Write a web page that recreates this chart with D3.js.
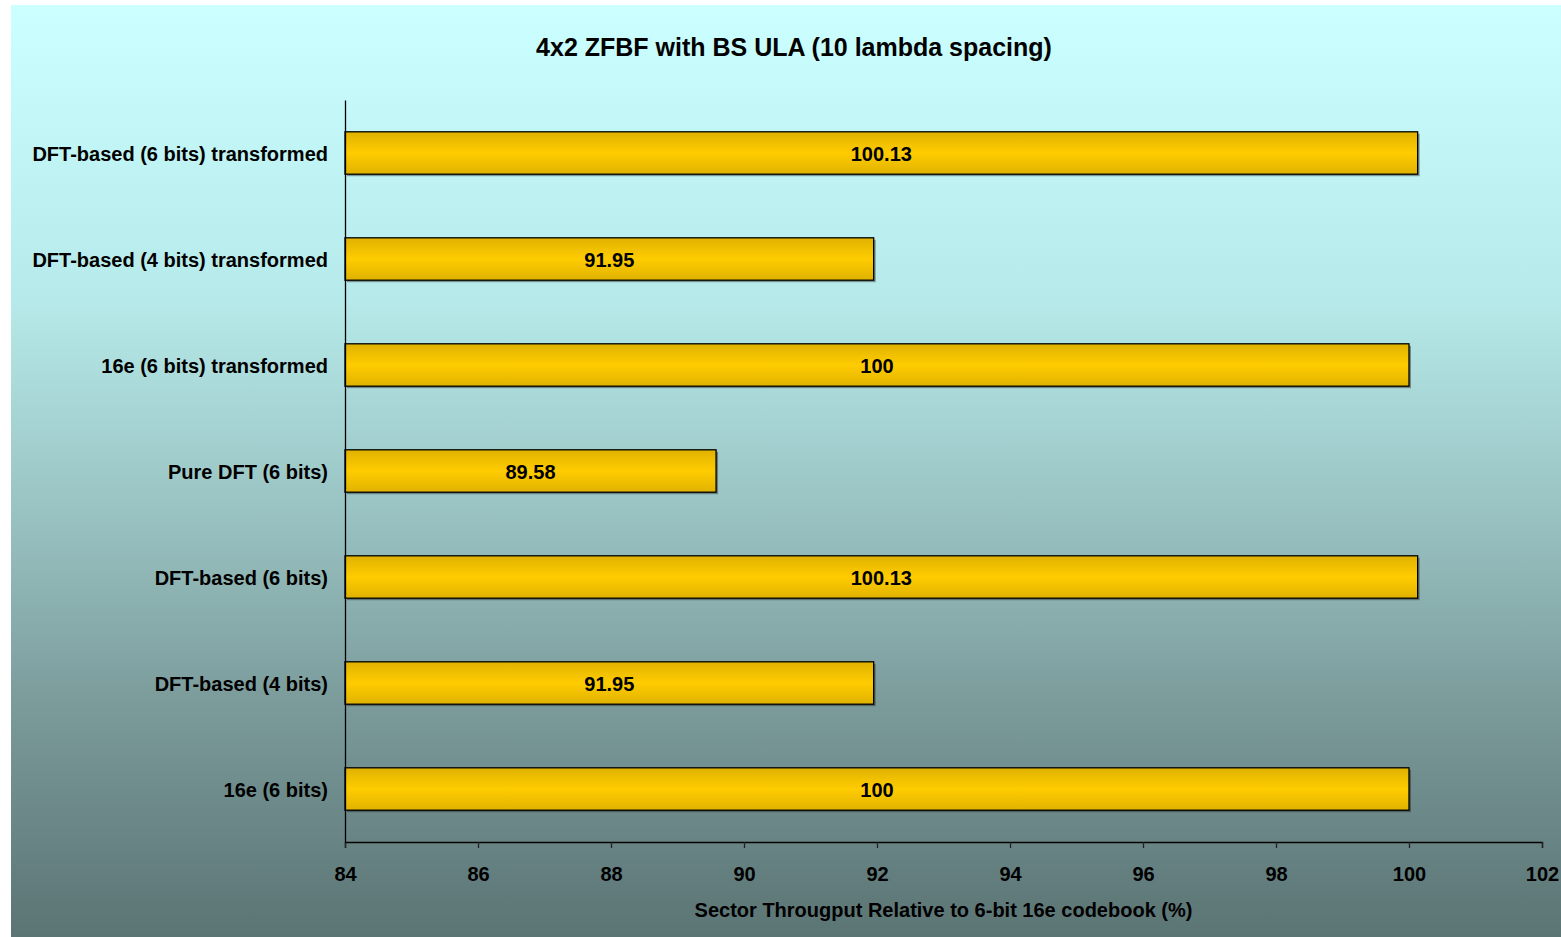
<!DOCTYPE html>
<html>
<head>
<meta charset="utf-8">
<script src="https://cdn.jsdelivr.net/npm/d3@7"></script>
<style>
  body { margin: 0; background: #fff; }
  text { font-family: "Liberation Sans", Arial, sans-serif; font-weight: bold; fill: #000; }
</style>
</head>
<body>
<div id="chart"></div>
<script>
var width = 1561;
var height = 937;

// data
var categories = [
  "DFT-based (6 bits) transformed",
  "DFT-based (4 bits) transformed",
  "16e (6 bits) transformed",
  "Pure DFT (6 bits)",
  "DFT-based (6 bits)",
  "DFT-based (4 bits)",
  "16e (6 bits)"
];
var values = [100.13, 91.95, 100, 89.58, 100.13, 91.95, 100];
var valueLabels = ["100.13", "91.95", "100", "89.58", "100.13", "91.95", "100"];
var xTicks = [84, 86, 88, 90, 92, 94, 96, 98, 100, 102];
var chartTitle = "4x2 ZFBF with BS ULA (10 lambda spacing)";
var xTitle = "Sector Througput Relative to 6-bit 16e codebook (%)";

var svg = d3.select("#chart").append("svg")
  .attr("width", width)
  .attr("height", height);

var defs = svg.append("defs");
var bg = defs.append("linearGradient").attr("id", "bg")
  .attr("x1", 0).attr("y1", 0).attr("x2", 0).attr("y2", 1);
bg.append("stop").attr("offset", "0%").attr("stop-color", "#ccffff");
bg.append("stop").attr("offset", "32%").attr("stop-color", "#b6e9e9");
bg.append("stop").attr("offset", "54%").attr("stop-color", "#9ac3c3");
bg.append("stop").attr("offset", "76%").attr("stop-color", "#7a9999");
bg.append("stop").attr("offset", "100%").attr("stop-color", "#5b7474");

var barGrad = defs.append("linearGradient").attr("id", "bar")
  .attr("x1", 0).attr("y1", 0).attr("x2", 0).attr("y2", 1);
barGrad.append("stop").attr("offset", "0%").attr("stop-color", "#e0b200");
barGrad.append("stop").attr("offset", "50%").attr("stop-color", "#ffcc00");
barGrad.append("stop").attr("offset", "100%").attr("stop-color", "#e0b200");

// background
svg.append("rect")
  .attr("x", 11).attr("y", 5)
  .attr("width", width - 11).attr("height", height - 5)
  .attr("fill", "url(#bg)");

var margin = { top: 100, bottom: 95, left: 345, right: 19 };
var plotWidth = width - margin.left - margin.right;
var plotHeight = height - margin.top - margin.bottom;

var plot = svg.append("g")
  .attr("transform", "translate(" + margin.left + "," + margin.top + ")");

var xScale = d3.scaleLinear().domain([84, 102]).range([0, plotWidth]);
var yScale = d3.scaleBand().domain(categories).range([0, plotHeight])
  .paddingInner(0.6).paddingOuter(0.3);

// bars (shadow, then bar)
var bars = plot.selectAll(".bar").data(values).enter().append("g").classed("bar", true);
bars.append("rect")
  .attr("x", 2)
  .attr("y", function (d, i) { return yScale(categories[i]) + 2; })
  .attr("width", function (d) { return xScale(d) - xScale(84); })
  .attr("height", yScale.bandwidth())
  .attr("fill", "rgba(40,40,40,0.45)");
bars.append("rect")
  .attr("x", 0)
  .attr("y", function (d, i) { return yScale(categories[i]); })
  .attr("width", function (d) { return xScale(d) - xScale(84); })
  .attr("height", yScale.bandwidth())
  .attr("fill", "url(#bar)")
  .attr("stroke", "#000")
  .attr("stroke-width", 1.3);
bars.append("text")
  .attr("x", function (d) { return (xScale(d) - xScale(84)) / 2; })
  .attr("y", function (d, i) { return yScale(categories[i]) + yScale.bandwidth() / 2 + 1; })
  .attr("dy", "0.35em")
  .attr("text-anchor", "middle")
  .style("font-size", "20px")
  .text(function (d, i) { return valueLabels[i]; });

// x axis
var xAxis = d3.axisBottom(xScale).tickValues(xTicks).tickSize(6).tickPadding(19)
  .tickFormat(d3.format("d"));
var xAxisGroup = plot.append("g")
  .attr("transform", "translate(0," + plotHeight + ")")
  .call(xAxis);
xAxisGroup.select(".domain").attr("stroke", "#000").attr("stroke-width", 1.3);
xAxisGroup.selectAll(".tick line").attr("stroke", "#222").attr("stroke-width", 1.3);
xAxisGroup.selectAll(".tick text")
  .style("font-size", "20px")
  .style("font-family", "'Liberation Sans', Arial, sans-serif")
  .style("font-weight", "bold")
  .attr("fill", "#000");

// y axis
var yAxis = d3.axisLeft(yScale).tickSize(0).tickPadding(17);
var yAxisGroup = plot.append("g").call(yAxis);
yAxisGroup.select(".domain").attr("stroke", "#000").attr("stroke-width", 1.3);
yAxisGroup.selectAll(".tick text")
  .attr("dy", "0.4em")
  .style("font-size", "20px")
  .style("font-family", "'Liberation Sans', Arial, sans-serif")
  .style("font-weight", "bold")
  .attr("fill", "#000");

// titles
svg.append("text")
  .attr("x", 794).attr("y", 56)
  .attr("text-anchor", "middle")
  .style("font-size", "25px")
  .text(chartTitle);

svg.append("text")
  .attr("x", margin.left + plotWidth / 2).attr("y", 917)
  .attr("text-anchor", "middle")
  .style("font-size", "20px")
  .text(xTitle);
</script>
</body>
</html>
